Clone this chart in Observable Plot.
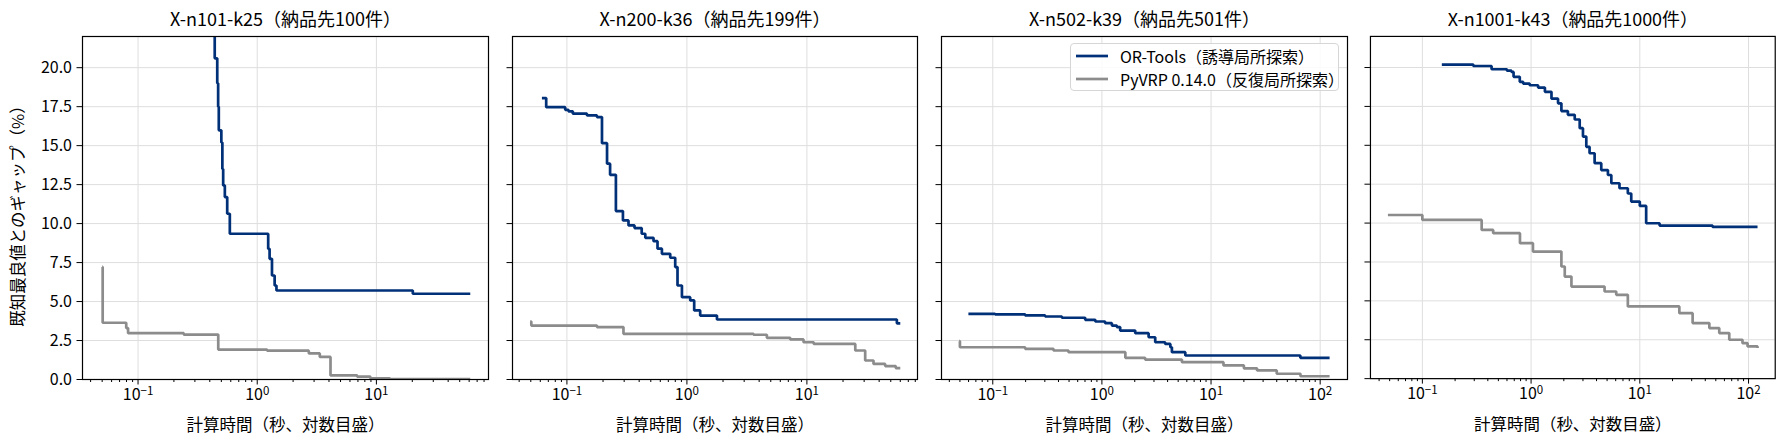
<!DOCTYPE html>
<html><head><meta charset="utf-8">
<script src="https://cdn.jsdelivr.net/npm/d3@7"></script>
<script src="https://cdn.jsdelivr.net/npm/@observablehq/plot@0.6"></script>
<style>
body{margin:0;background:#fff;}
#wrap{position:relative;width:1787px;height:445px;font-family:'Noto Sans CJK JP',sans-serif;}
.panel{position:absolute;top:0;}
#legend{position:absolute;box-sizing:border-box;border:1px solid #d6d6d6;border-radius:4px;background:rgba(255,255,255,0.85);font-family:'Noto Sans CJK JP',sans-serif;}
#legend .row{position:absolute;left:0;display:flex;align-items:center;white-space:nowrap;color:#000;}
</style></head><body><div id="wrap"></div>
<script>
// ---- titles & labels ----
const panelTitles = ["X-n101-k25（納品先100件）", "X-n200-k36（納品先199件）", "X-n502-k39（納品先501件）", "X-n1001-k43（納品先1000件）"];
const xLabel = "計算時間（秒、対数目盛）";
const yLabel = "既知最良値とのギャップ（%）";
const seriesNames = ["OR-Tools（誘導局所探索）", "PyVRP 0.14.0（反復局所探索）"];
const seriesColors = ["#003078", "#8c8c8c"];
const yTicks = [0, 2.5, 5, 7.5, 10, 12.5, 15, 17.5, 20];
const xMajorTicks = [0.1, 1, 10, 100];
const xMajorExponents = ["−1", "0", "1", "2"];
const xDomains = [[0.0342, 87.2], [0.0352, 83.5], [0.0339, 178], [0.0333, 176]];

// ---- panel 1: X-n101-k25 ----
const p1OrTime = [0.432, 0.440, 0.462, 0.470, 0.476, 0.500, 0.510, 0.518, 0.535, 0.560, 0.589, 1.236, 1.27, 1.33, 1.40, 1.45, 20.2, 61.3];
const p1OrGap  = [28, 20.6, 19.0, 17.5, 15.98, 15.2, 13.5, 12.45, 11.7, 10.63, 9.35, 8.38, 7.74, 6.67, 6.03, 5.71, 5.50, 5.50];
const p1PyTime = [0.050, 0.0505, 0.0796, 0.0825, 0.242, 0.471, 1.21, 2.71, 3.35, 4.12, 6.9, 8.9, 13, 61.3];
const p1PyGap  = [7.22, 3.64, 3.30, 2.97, 2.88, 1.92, 1.85, 1.67, 1.45, 0.26, 0.18, 0.08, 0.03, 0.03];

// ---- panel 2: X-n200-k36 ----
const p2OrTime = [0.0619, 0.0672, 0.0968, 0.103, 0.112, 0.147, 0.178, 0.196, 0.216, 0.229, 0.256, 0.293, 0.326, 0.366, 0.42, 0.45, 0.527, 0.569, 0.619, 0.726, 0.799, 0.835, 0.909, 1.065, 1.15, 1.29, 1.78, 56.2, 60];
const p2OrGap  = [18.05, 17.47, 17.3, 17.2, 17.05, 16.94, 16.83, 15.16, 13.84, 13.13, 10.8, 10.2, 9.88, 9.71, 9.35, 9.09, 8.87, 8.39, 8.06, 7.81, 7.21, 6.03, 5.28, 5.07, 4.43, 4.10, 3.85, 3.6, 3.6];
const p2PyTime = [0.0494, 0.0505, 0.178, 0.296, 3.59, 4.64, 7.26, 9.37, 11.4, 25.3, 30.6, 35.9, 44.9, 55, 60];
const p2PyGap  = [3.72, 3.46, 3.36, 2.93, 2.87, 2.67, 2.57, 2.39, 2.28, 1.86, 1.22, 1.0, 0.86, 0.73, 0.73];

// ---- panel 3: X-n502-k39 ----
const p3OrTime = [0.0598, 0.105, 0.198, 0.302, 0.43, 0.703, 0.87, 1.07, 1.235, 1.37, 1.47, 2.02, 2.68, 3.08, 3.8, 4.24, 4.38, 5.81, 65.8, 122];
const p3OrGap  = [4.21, 4.18, 4.11, 4.04, 3.96, 3.83, 3.72, 3.61, 3.46, 3.36, 3.14, 2.97, 2.71, 2.39, 2.28, 2.07, 1.75, 1.54, 1.39, 1.39];
const p3PyTime = [0.0492, 0.0500, 0.198, 0.36, 0.494, 1.64, 2.49, 5.41, 13, 20, 26.4, 40, 66, 122];
const p3PyGap  = [2.46, 2.07, 1.97, 1.86, 1.75, 1.39, 1.28, 1.11, 0.90, 0.72, 0.58, 0.37, 0.21, 0.21];

// ---- panel 4: X-n1001-k43 ----
const p4OrTime = [0.151, 0.294, 0.433, 0.60, 0.66, 0.69, 0.787, 0.845, 0.97, 1.16, 1.34, 1.54, 1.77, 1.90, 2.18, 2.52, 2.80, 3.0, 3.22, 3.45, 3.84, 4.42, 5.09, 5.47, 6.5, 7.76, 8.34, 10.0, 11.44, 15.2, 46.7, 121];
const p4OrGap  = [20.19, 20.10, 19.89, 19.80, 19.72, 19.40, 19.08, 18.97, 18.86, 18.71, 18.44, 18.0, 17.7, 17.2, 16.96, 16.66, 16.1, 15.56, 14.9, 14.49, 13.85, 13.41, 13.09, 12.56, 12.24, 11.9, 11.38, 11.1, 9.99, 9.84, 9.75, 9.75];
const p4PyTime = [0.0482, 0.1, 0.351, 0.448, 0.79, 1.04, 1.9, 2.04, 2.35, 4.74, 6.07, 7.76, 23.1, 30.6, 43.6, 53.8, 66.5, 88, 98, 121];
const p4PyGap  = [10.52, 10.2, 9.56, 9.35, 8.71, 8.17, 7.21, 6.56, 5.92, 5.6, 5.39, 4.64, 4.21, 3.57, 3.25, 2.93, 2.5, 2.28, 2.07, 1.97];

const orTimes = [p1OrTime, p2OrTime, p3OrTime, p4OrTime];
const orGaps = [p1OrGap, p2OrGap, p3OrGap, p4OrGap];
const pyTimes = [p1PyTime, p2PyTime, p3PyTime, p4PyTime];
const pyGaps = [p1PyGap, p2PyGap, p3PyGap, p4PyGap];

// layout (pixel frame positions)
const frameLeft = [82, 512.3, 941.3, 1370.3];
const frameRight = [488, 917.3, 1347.3, 1776];
const FONT = "'Noto Sans CJK JP', sans-serif";
const TICK_FS = 16, LABEL_FS = 16.5, TITLE_FS = 18, LEGEND_FS = 16;
const LW = 2.7;

const wrap = document.getElementById("wrap");

for (let i = 0; i < 4; i++) {
  const mL = i === 0 ? 82 : 24, mR = 12;
  const width = frameRight[i] - frameLeft[i] + mL + mR;
  const dom = xDomains[i];
  const orData = orTimes[i].map((t, k) => ({t, g: orGaps[i][k]}));
  const pyData = pyTimes[i].map((t, k) => ({t, g: pyGaps[i][k]}));
  const majors = xMajorTicks.filter(v => v >= dom[0] && v <= dom[1]);
  const minors = [];
  [0.01, 0.1, 1, 10, 100].forEach(b => [2,3,4,5,6,7,8,9].forEach(m => { const v = b * m; if (v >= dom[0] && v <= dom[1]) minors.push(v); }));
  const expMap = new Map(xMajorTicks.map((v, k) => [v, xMajorExponents[k]]));
  const marks = [
    Plot.gridX(majors, {stroke: "#dedede", strokeOpacity: 1, strokeWidth: 1}),
    Plot.gridY(yTicks, {stroke: "#dedede", strokeOpacity: 1, strokeWidth: 1}),
    Plot.line(pyData, {x: "t", y: "g", curve: "step-after", stroke: seriesColors[1], strokeWidth: LW, strokeLinejoin: "miter", strokeLinecap: "butt", clip: true}),
    Plot.line(orData, {x: "t", y: "g", curve: "step-after", stroke: seriesColors[0], strokeWidth: LW, strokeLinejoin: "miter", strokeLinecap: "butt", clip: true}),
    Plot.frame({stroke: "black", strokeWidth: 1.2}),
    Plot.axisY(yTicks, {tickSize: 5.5, tickPadding: 5, tickFormat: i === 0 ? (d => d.toFixed(1)) : (() => ""), fontSize: TICK_FS, label: null}),
    Plot.axisX(majors, {tickSize: 5.5, tickPadding: 4, tickFormat: d => expMap.get(d), fontSize: TICK_FS, label: null}),
    Plot.axisX(minors, {tickSize: 3, tickFormat: () => "", label: null}),
    Plot.text([panelTitles[i]], {text: d => d, frameAnchor: "top", dy: -16.5, fontSize: TITLE_FS, lineAnchor: "middle", textAnchor: "middle"}),
    Plot.text([xLabel], {text: d => d, frameAnchor: "bottom", dy: 46, fontSize: LABEL_FS, lineAnchor: "middle", textAnchor: "middle"})
  ];
  if (i === 0) marks.push(Plot.text([yLabel], {text: d => d, frameAnchor: "left", dx: -64, dy: 4, rotate: -90, fontSize: LABEL_FS, lineAnchor: "middle", textAnchor: "middle"}));
  const chart = Plot.plot({
    width, height: 445,
    marginTop: 36, marginBottom: 66, marginLeft: mL, marginRight: mR,
    style: {fontFamily: FONT, fontSize: TICK_FS + "px", background: "transparent", overflow: "visible", color: "black"},
    x: {type: "log", domain: dom, label: null},
    y: {domain: [0, 22], label: null},
    marks
  });
  // render x tick labels as 10 with a superscript exponent
  const ns = "http://www.w3.org/2000/svg";
  chart.querySelectorAll('g[aria-label="x-axis tick label"] text').forEach(t => {
    const e = t.textContent;
    if (!e) return;
    t.textContent = "10";
    const s = document.createElementNS(ns, "tspan");
    s.setAttribute("dy", "-0.45em");
    s.setAttribute("font-size", "0.72em");
    s.textContent = e;
    t.appendChild(s);
  });
  const div = document.createElement("div");
  div.className = "panel";
  div.style.left = (frameLeft[i] - mL) + "px";
  div.appendChild(chart);
  wrap.appendChild(div);
}

// legend inside panel 3
const lg = document.createElement("div");
lg.id = "legend";
Object.assign(lg.style, {left: "1070px", top: "43px", width: "269px", height: "48px", fontSize: LEGEND_FS + "px"});
seriesNames.forEach((name, k) => {
  const row = document.createElement("div");
  row.className = "row";
  row.style.top = (k === 0 ? 1 : 24) + "px";
  row.style.height = "22px";
  const ns = "http://www.w3.org/2000/svg";
  const svg = document.createElementNS(ns, "svg");
  svg.setAttribute("width", "49"); svg.setAttribute("height", "22");
  const ln = document.createElementNS(ns, "line");
  ln.setAttribute("x1", "5"); ln.setAttribute("x2", "37"); ln.setAttribute("y1", "11"); ln.setAttribute("y2", "11");
  ln.setAttribute("stroke", seriesColors[k]); ln.setAttribute("stroke-width", LW);
  svg.appendChild(ln);
  const sp = document.createElement("span");
  sp.textContent = name;
  sp.style.fontSize = LEGEND_FS + "px";
  row.appendChild(svg); row.appendChild(sp);
  lg.appendChild(row);
});
wrap.appendChild(lg);
</script></body></html>
